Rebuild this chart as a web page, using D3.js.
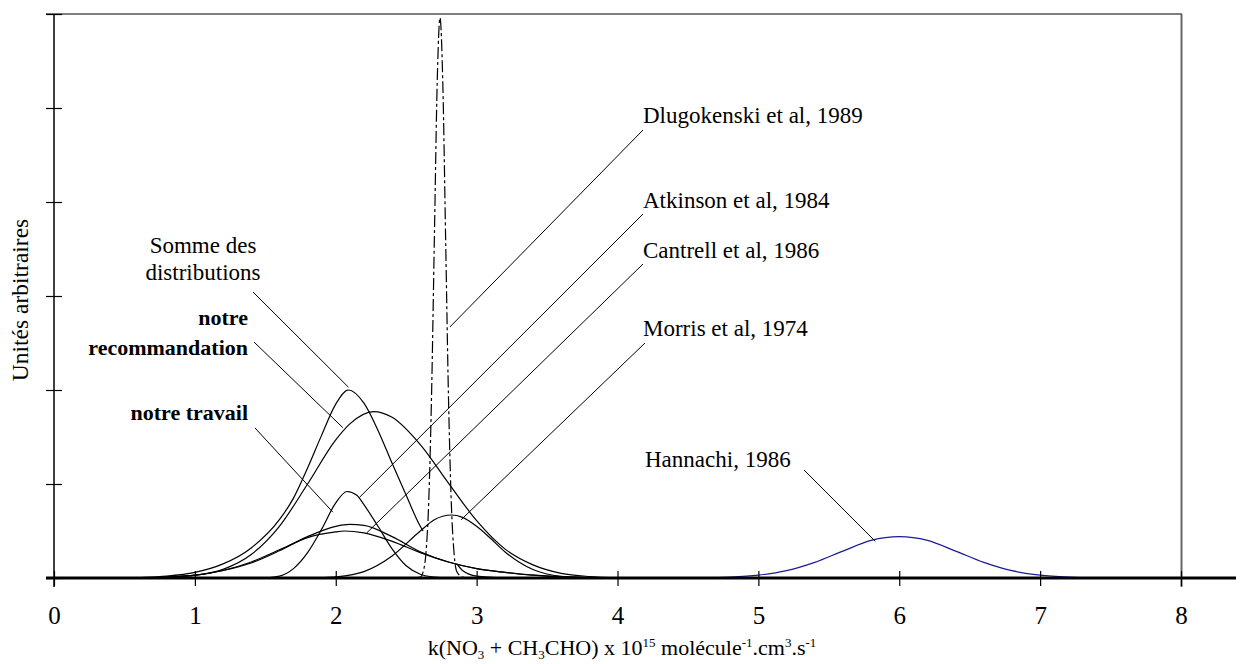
<!DOCTYPE html>
<html><head><meta charset="utf-8">
<script src="https://cdn.jsdelivr.net/npm/d3@7"></script>
<style>
html,body{margin:0;padding:0;background:#fff;}
text{font-family:"Liberation Serif","DejaVu Serif",serif;fill:#000;}
</style></head>
<body><svg id="c" width="1242" height="664"></svg>
<script>
// ---- data ----
const xTicks = [0,1,2,3,4,5,6,7,8];
const yTicks = [0,1,2,3,4,5,6];

const sommeX = [0.5,0.6,0.8,1.0,1.2,1.4,1.6,1.7,1.8,1.9,2.0,2.09,2.2,2.3,2.4,2.5,2.6,2.62,2.7,2.86,2.9,3.0,3.2];
const sommeY = [0,0.005,0.02,0.06,0.15,0.32,0.62,0.85,1.17,1.52,1.85,2.0,1.86,1.57,1.22,0.88,0.55,0.50,null,0.15,0.08,0.02,0];

const recoX = [0.6,0.8,1.0,1.2,1.4,1.6,1.8,2.0,2.1,2.27,2.4,2.6,2.8,3.0,3.2,3.4,3.6,3.8,4.0];
const recoY = [0.001,0.007,0.027,0.092,0.25,0.55,1.0,1.47,1.64,1.77,1.71,1.42,1.01,0.61,0.31,0.14,0.05,0.016,0.004];

const dlugoX = [2.56,2.6,2.62,2.64,2.66,2.68,2.70,2.72,2.74,2.76,2.78,2.80,2.82,2.84,2.86,2.9,2.94];
const dlugoY = [0,0.01,0.066,0.26,0.81,1.94,3.61,5.26,5.96,5.26,3.61,1.94,0.81,0.26,0.066,0.01,0];

const atkinsonX = [1.5,1.6,1.7,1.8,1.9,2.0,2.08,2.15,2.2,2.3,2.4,2.5,2.6,2.7,2.8];
const atkinsonY = [0,0.02,0.1,0.27,0.52,0.8,0.92,0.88,0.78,0.55,0.31,0.13,0.04,0.01,0];

const cantrellX = [0.6,0.8,1.0,1.2,1.4,1.6,1.8,2.0,2.1,2.2,2.4,2.6,2.8,3.0,3.2,3.4,3.6,3.8,4.0];
const cantrellY = [0,0.01,0.03,0.08,0.16,0.29,0.44,0.55,0.57,0.56,0.44,0.28,0.17,0.10,0.06,0.03,0.015,0.005,0];

const travailX = [0.6,0.8,1.0,1.2,1.4,1.6,1.8,2.0,2.06,2.2,2.4,2.6,2.8,3.0,3.2,3.4,3.6,3.8,4.0];
const travailY = [0,0.01,0.03,0.08,0.17,0.30,0.43,0.49,0.50,0.48,0.39,0.27,0.17,0.10,0.06,0.03,0.012,0.004,0];

const morrisX = [1.8,1.9,2.0,2.2,2.4,2.6,2.7,2.82,2.9,3.0,3.1,3.2,3.3,3.4,3.6,3.8,4.0];
const morrisY = [0,0.004,0.012,0.068,0.235,0.50,0.62,0.67,0.645,0.55,0.42,0.28,0.17,0.09,0.018,0.002,0];

const hannachiX = [4.6,4.8,5.0,5.2,5.4,5.6,5.8,6.0,6.2,6.4,6.6,6.8,7.0,7.2,7.4];
const hannachiY = [0.002,0.009,0.03,0.078,0.166,0.286,0.40,0.44,0.40,0.286,0.166,0.078,0.03,0.009,0.002];

// ---- layout ----
const svg = d3.select("#c");
const X0 = 54, X1 = 1181, Y0 = 578, Y1 = 14;
const x = d3.scaleLinear().domain([0,8]).range([X0,X1]);
const y = d3.scaleLinear().domain([0,6]).range([Y0,Y1]);

// frame
svg.append("line").attr("x1",46).attr("x2",X1+1).attr("y1",Y1).attr("y2",Y1)
  .attr("stroke","#555").attr("stroke-width",1.5);
svg.append("line").attr("x1",X1+0.5).attr("x2",X1+0.5).attr("y1",Y1).attr("y2",587)
  .attr("stroke","#666").attr("stroke-width",2);

// curves
const line = d3.line().defined(d=>d[1]!==null).x(d=>x(d[0])).y(d=>y(d[1])).curve(d3.curveMonotoneX);
const zip = (a,b)=>a.map((v,i)=>[v,b[i]]);
const series = [
  {xs:hannachiX, ys:hannachiY, color:"#1a1a99", dash:null},
  {xs:travailX, ys:travailY, color:"#000", dash:null},
  {xs:cantrellX, ys:cantrellY, color:"#000", dash:null},
  {xs:morrisX, ys:morrisY, color:"#000", dash:null},
  {xs:atkinsonX, ys:atkinsonY, color:"#000", dash:null},
  {xs:recoX, ys:recoY, color:"#000", dash:null},
  {xs:sommeX, ys:sommeY, color:"#000", dash:null},
  {xs:dlugoX, ys:dlugoY, color:"#000", dash:"12,3,3,3"}
];
series.forEach(s=>{
  svg.append("path").attr("d",line(zip(s.xs,s.ys))).attr("fill","none")
    .attr("stroke",s.color).attr("stroke-width",1.2)
    .attr("stroke-dasharray",s.dash);
});

// axes
const xAxis = d3.axisBottom(x).tickValues(xTicks).tickSize(0).tickFormat(d3.format("d")).tickPadding(28);
const gx = svg.append("g").attr("transform",`translate(0,${Y0})`).call(xAxis);
gx.select(".domain").remove();
gx.selectAll("text").attr("font-size",25).attr("font-family","Liberation Serif");
gx.selectAll(".tick").append("line").attr("y1",-7).attr("y2",8).attr("stroke","#000").attr("stroke-width",1.2);
svg.append("line").attr("x1",46).attr("x2",1236).attr("y1",Y0).attr("y2",Y0)
  .attr("stroke","#000").attr("stroke-width",3);

const yAxis = d3.axisLeft(y).tickValues(yTicks).tickSize(0).tickFormat("");
const gy = svg.append("g").attr("transform",`translate(${X0},0)`).call(yAxis);
gy.select(".domain").remove();
gy.selectAll(".tick").append("line").attr("x1",-8).attr("x2",8).attr("stroke","#000").attr("stroke-width",1.2);
svg.append("line").attr("x1",X0).attr("x2",X0).attr("y1",Y1).attr("y2",587)
  .attr("stroke","#000").attr("stroke-width",1.5);

// y label
svg.append("text").attr("transform","translate(28,300) rotate(-90)")
  .attr("text-anchor","middle").attr("font-size",23.5).text("Unités arbitraires");

// x label with sub/superscripts
const xl = svg.append("text").attr("x",622).attr("y",655).attr("text-anchor","middle").attr("font-size",22);
const parts = [["k(NO",0],["3",-1],[" + CH",0],["3",-1],["CHO) x 10",0],["15",1],[" molécule",0],["-1",1],[".cm",0],["3",1],[".s",0],["-1",1]];
let prev = 0;
parts.forEach(([t,k])=>{
  const dy = (k===1? -8 : k===-1? 4 : 0);
  xl.append("tspan").attr("dy",dy-prev).attr("font-size",k?13:22).text(t);
  prev = dy;
});

// annotations
const annText = [
  {lines:["Somme des","distributions"], x:203, y:[253,280], anchor:"middle", bold:false},
  {lines:["notre","recommandation"], x:248, y:[325,355], anchor:"end", bold:true},
  {lines:["notre travail"], x:248, y:[420], anchor:"end", bold:true},
  {lines:["Dlugokenski et al, 1989"], x:643, y:[123], anchor:"start", bold:false},
  {lines:["Atkinson et al, 1984"], x:643, y:[208], anchor:"start", bold:false},
  {lines:["Cantrell et al, 1986"], x:643, y:[258], anchor:"start", bold:false},
  {lines:["Morris et al, 1974"], x:643, y:[336], anchor:"start", bold:false},
  {lines:["Hannachi, 1986"], x:645, y:[467], anchor:"start", bold:false}
];
annText.forEach(a=>{
  a.lines.forEach((t,i)=>{
    svg.append("text").attr("x",a.x).attr("y",a.y[i]).attr("text-anchor",a.anchor)
      .attr("font-size",a.bold?22:23).attr("font-weight",a.bold?"bold":"normal").text(t);
  });
});
// leader lines: start in px, end at data point
const leaders = [
  {sx:253, sy:292, v:2.09, u:2.03},
  {sx:254, sy:342, v:2.05, u:1.60},
  {sx:255, sy:428, v:1.98, u:0.70},
  {sx:643, sy:130, v:2.81, u:2.67},
  {sx:643, sy:214, v:2.17, u:0.86},
  {sx:643, sy:264, v:2.22, u:0.48},
  {sx:645, sy:343, v:2.89, u:0.62},
  {sx:804, sy:470, v:5.83, u:0.39}
];
leaders.forEach(l=>{
  svg.append("line").attr("x1",l.sx).attr("y1",l.sy).attr("x2",x(l.v)).attr("y2",y(l.u))
    .attr("stroke","#000").attr("stroke-width",1);
});
</script></body></html>
